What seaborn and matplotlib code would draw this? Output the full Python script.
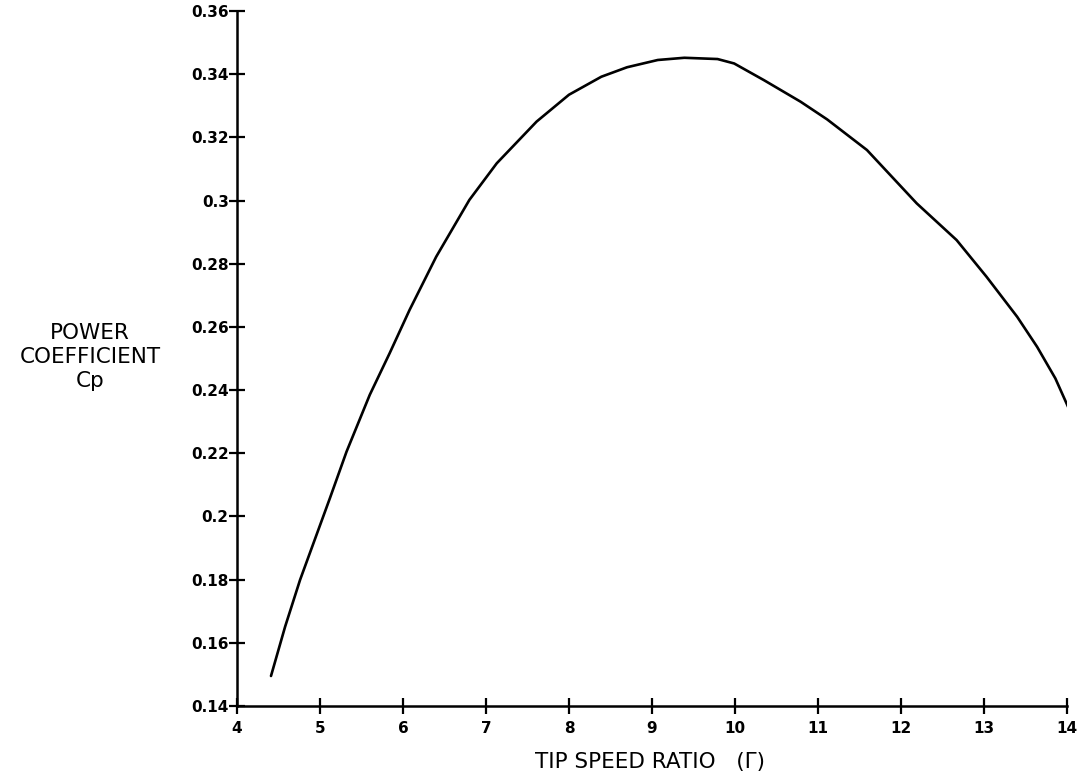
import matplotlib
matplotlib.use("Agg")
import matplotlib.pyplot as plt
import seaborn as sns
import pandas as pd

# Data
tip_speed_ratio = [4.41, 4.58, 4.76, 5.12, 5.32, 5.60, 5.84, 6.08, 6.40, 6.80,
                   7.13, 7.61, 8.00, 8.39, 8.70, 9.07, 9.39, 9.79, 9.99, 10.35,
                   10.79, 11.11, 11.59, 12.19, 12.67, 13.03, 13.40, 13.64, 13.86, 14.02]
power_coeff = [0.1495, 0.1651, 0.1799, 0.2058, 0.2205, 0.2385, 0.2517, 0.2654, 0.2822, 0.3002,
               0.3118, 0.3250, 0.3335, 0.3392, 0.3422, 0.3445, 0.3452, 0.3448, 0.3434, 0.3381,
               0.3313, 0.3257, 0.3160, 0.2991, 0.2875, 0.2759, 0.2632, 0.2537, 0.2437, 0.2343]

x_ticks = [4, 5, 6, 7, 8, 9, 10, 11, 12, 13, 14]
y_ticks = [0.14, 0.16, 0.18, 0.20, 0.22, 0.24, 0.26, 0.28, 0.30, 0.32, 0.34, 0.36]
y_tick_labels = ["0.14", "0.16", "0.18", "0.2", "0.22", "0.24", "0.26", "0.28", "0.3", "0.32", "0.34", "0.36"]

df = pd.DataFrame({"tsr": tip_speed_ratio, "cp": power_coeff})

sns.set_style("ticks")
plt.rcParams["font.family"] = ["DejaVu Sans"]
plt.rcParams["text.color"] = "black"
plt.rcParams["xtick.color"] = "black"
plt.rcParams["ytick.color"] = "black"
plt.rcParams["xtick.labelcolor"] = "black"
plt.rcParams["ytick.labelcolor"] = "black"

fig = plt.figure(figsize=(10.84, 7.82), dpi=100)
ax = fig.add_axes([0.2186, 0.0972, 0.9843 - 0.2186, 0.9859 - 0.0972])

sns.lineplot(data=df, x="tsr", y="cp", ax=ax, color="black", linewidth=1.9,
             estimator=None, sort=False)

ax.set_xlim(4, 14)
ax.set_ylim(0.14, 0.36)
ax.set_xticks(x_ticks)
ax.set_xticklabels([str(t) for t in x_ticks], fontweight="bold", fontsize=11, color="black")
ax.set_yticks(y_ticks)
ax.set_yticklabels(y_tick_labels, fontweight="bold", fontsize=11, color="black")
ax.tick_params(axis="both", direction="inout", length=12, width=1.6, color="black",
               labelcolor="black")
ax.tick_params(axis="y", pad=0)
ax.tick_params(axis="x", pad=5)

for side in ["top", "right"]:
    ax.spines[side].set_visible(False)
for side in ["left", "bottom"]:
    ax.spines[side].set_linewidth(1.8)
    ax.spines[side].set_color("black")

ax.set_xlabel("")
ax.set_ylabel("")

fig.text(0.083, 0.5435, "POWER\nCOEFFICIENT\nCp", ha="center", va="center",
         fontsize=15.5, linespacing=1.25, color="black")
fig.text(0.600, 0.025, "TIP SPEED RATIO   (\u0393)", ha="center", va="center",
         fontsize=15.5, color="black")

fig.savefig("out.png", dpi=100, facecolor="white")
